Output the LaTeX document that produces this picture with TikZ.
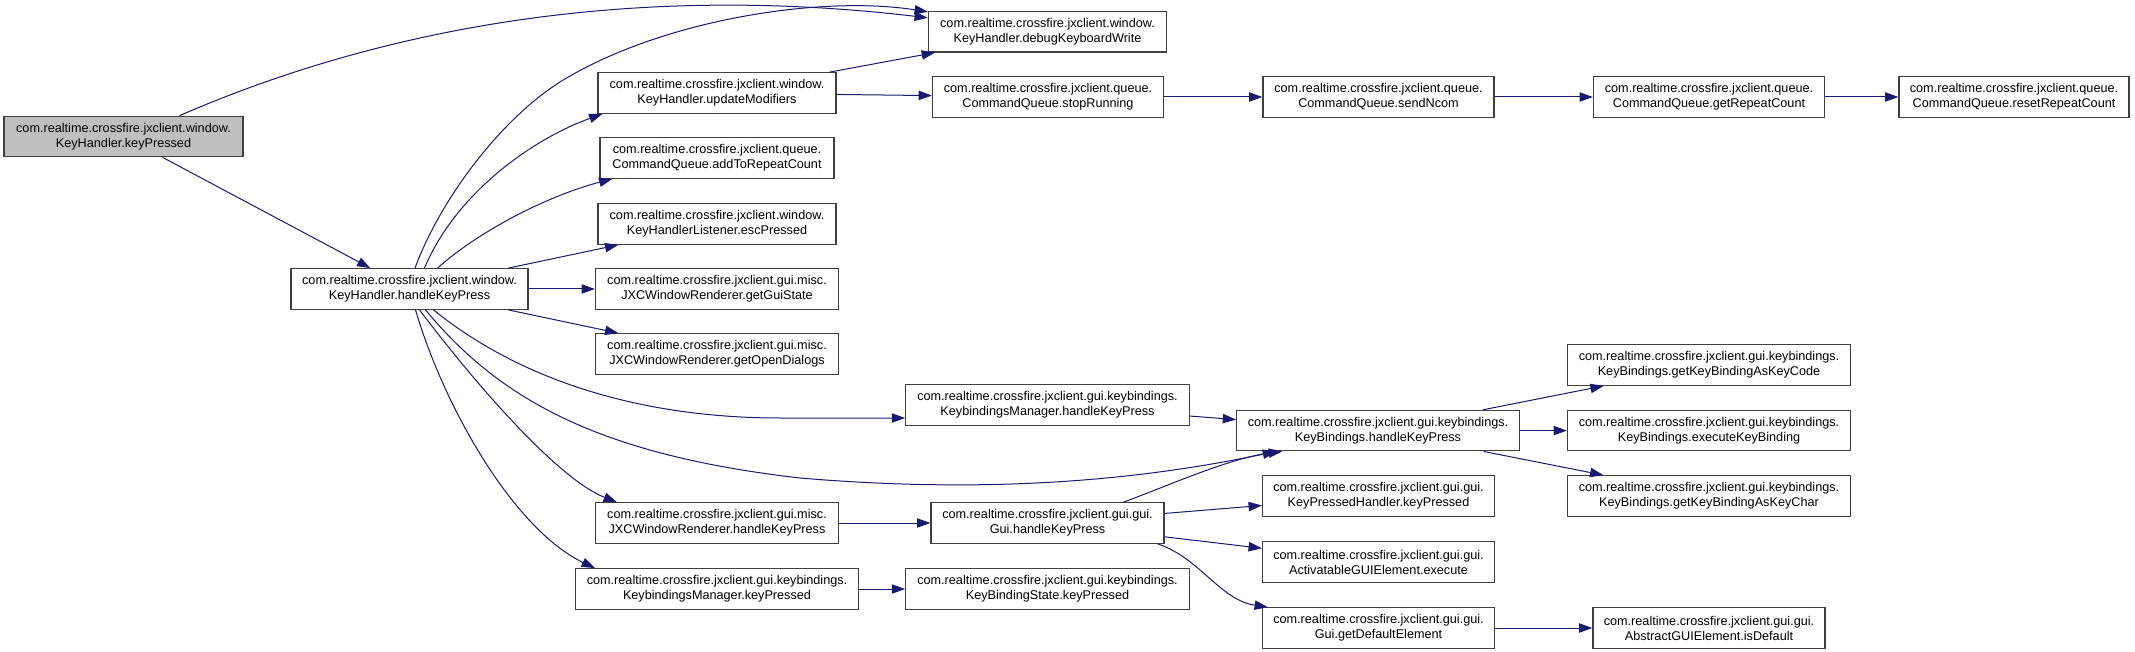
\documentclass[tikz,border=0pt]{standalone}
\usepackage{fontspec}
\setmainfont{Liberation Sans}
\usetikzlibrary{arrows.meta,calc}
\definecolor{edgec}{HTML}{191970}
\definecolor{bordc}{HTML}{404040}
\definecolor{rootfill}{HTML}{BFBFBF}
\newcommand\nodefont{\fontsize{9.5pt}{11.25pt}\selectfont}
\begin{document}
\begin{tikzpicture}[x=0.75pt,y=-0.75pt,
  box/.style={draw=bordc,line width=0.9pt,fill=white,minimum height=30.4pt,inner sep=0pt,align=center,font=\nodefont,text=black},
  bw/.style={minimum width=#1*0.75pt},
  edge/.style={draw=edgec,line width=0.75pt,-{Triangle[length=10pt,width=7pt]}}]
\useasboundingbox (0,0) rectangle (2135,652);
% column 1
\node[box,bw=239,fill=rootfill] (kp) at (123.5,136.5) {com.realtime.crossfire.jxclient.window.\\KeyHandler.keyPressed};
\node[box,bw=237] (kh) at (409.5,289) {com.realtime.crossfire.jxclient.window.\\KeyHandler.handleKeyPress};
% column 2
\node[box,bw=238] (upd) at (717,93) {com.realtime.crossfire.jxclient.window.\\KeyHandler.updateModifiers};
\node[box,bw=234] (add) at (717,158) {com.realtime.crossfire.jxclient.queue.\\CommandQueue.addToRepeatCount};
\node[box,bw=238] (esc) at (717,224) {com.realtime.crossfire.jxclient.window.\\KeyHandlerListener.escPressed};
\node[box,bw=243] (ggs) at (717,289) {com.realtime.crossfire.jxclient.gui.misc.\\JXCWindowRenderer.getGuiState};
\node[box,bw=243] (god) at (717,354) {com.realtime.crossfire.jxclient.gui.misc.\\JXCWindowRenderer.getOpenDialogs};
\node[box,bw=243] (jxh) at (717,523) {com.realtime.crossfire.jxclient.gui.misc.\\JXCWindowRenderer.handleKeyPress};
\node[box,bw=283] (kmk) at (717,589) {com.realtime.crossfire.jxclient.gui.keybindings.\\KeybindingsManager.keyPressed};
% column 3
\node[box,bw=238] (dbg) at (1047.5,31.7) {com.realtime.crossfire.jxclient.window.\\KeyHandler.debugKeyboardWrite};
\node[box,bw=231] (stop) at (1048,97) {com.realtime.crossfire.jxclient.queue.\\CommandQueue.stopRunning};
\node[box,bw=283.5] (kmh) at (1047.5,405) {com.realtime.crossfire.jxclient.gui.keybindings.\\KeybindingsManager.handleKeyPress};
\node[box,bw=233] (guih) at (1047.5,523) {com.realtime.crossfire.jxclient.gui.gui.\\Gui.handleKeyPress};
\node[box,bw=283.5] (kbs) at (1047.5,589) {com.realtime.crossfire.jxclient.gui.keybindings.\\KeyBindingState.keyPressed};
% column 4
\node[box,bw=231] (send) at (1378.5,97) {com.realtime.crossfire.jxclient.queue.\\CommandQueue.sendNcom};
\node[box,bw=282.6] (kbh) at (1378,430.6) {com.realtime.crossfire.jxclient.gui.keybindings.\\KeyBindings.handleKeyPress};
\node[box,bw=232] (kph) at (1378.5,496) {com.realtime.crossfire.jxclient.gui.gui.\\KeyPressedHandler.keyPressed};
\node[box,bw=232] (act) at (1378.5,562) {com.realtime.crossfire.jxclient.gui.gui.\\ActivatableGUIElement.execute};
\node[box,bw=232] (gde) at (1378.5,628) {com.realtime.crossfire.jxclient.gui.gui.\\Gui.getDefaultElement};
% column 5
\node[box,bw=231] (grc) at (1709,97) {com.realtime.crossfire.jxclient.queue.\\CommandQueue.getRepeatCount};
\node[box,bw=283] (kcode) at (1709,365) {com.realtime.crossfire.jxclient.gui.keybindings.\\KeyBindings.getKeyBindingAsKeyCode};
\node[box,bw=283] (kexec) at (1709,430.6) {com.realtime.crossfire.jxclient.gui.keybindings.\\KeyBindings.executeKeyBinding};
\node[box,bw=283] (kchar) at (1709,496) {com.realtime.crossfire.jxclient.gui.keybindings.\\KeyBindings.getKeyBindingAsKeyChar};
\node[box,bw=232] (isd) at (1709,628) {com.realtime.crossfire.jxclient.gui.gui.\\AbstractGUIElement.isDefault};
% column 6
\node[box,bw=230] (rrc) at (2014,97) {com.realtime.crossfire.jxclient.queue.\\CommandQueue.resetRepeatCount};

% edges from keyPressed
\draw[edge] ($(kp.north)+(56,0)$) .. controls (400,20) and (650,-15) .. ($(dbg.north west)+(0,7)$);
\draw[edge] (kp) -- (kh);
% edges from KeyHandler.handleKeyPress
\draw[edge] ($(kh.north)+(5.5,0)$) .. controls (440,200) and (500,120) .. (560,82)
  .. controls (660,20) and (820,-5) .. ($(dbg.north west)+(0,1)$);
\draw[edge] ($(kh.north)+(15,0)$) .. controls (455,195) and (530,140) .. ($(upd.south west)+(5,0)$);
\draw[edge] ($(kh.north)+(28,0)$) .. controls (480,230) and (550,195) .. ($(add.south west)+(13,0)$);
\draw[edge] (kh) -- (esc);
\draw[edge] (kh) -- (ggs);
\draw[edge] (kh) -- (god);
\draw[edge] ($(kh.south)+(24,0)$) .. controls (520,380) and (640,418) .. (780,418) -- ($(kmh.west)+(0,13)$);
\draw[edge] ($(kh.south)+(16,0)$) .. controls (500,400) and (600,455) .. (800,478)
  .. controls (1000,495) and (1150,478) .. ($(kbh.south west)+(40,0)$);
\draw[edge] ($(kh.south)+(10,0)$) .. controls (480,390) and (560,480) .. ($(jxh.north west)+(22,0)$);
\draw[edge] ($(kh.south)+(6,0)$) .. controls (445,410) and (515,530) .. ($(kmk.north west)+(20,0)$);
% updateModifiers
\draw[edge] (upd) -- (dbg);
\draw[edge] (upd) -- (stop);
% queue chain
\draw[edge] (stop) -- (send);
\draw[edge] (send) -- (grc);
\draw[edge] (grc) -- (rrc);
% keybindings
\draw[edge] (kmh) -- (kbh);
\draw[edge] (kbh) -- (kcode);
\draw[edge] (kbh) -- (kexec);
\draw[edge] (kbh) -- (kchar);
\draw[edge] (jxh) -- (guih);
\draw[edge] (kmk) -- (kbs);
% Gui.handleKeyPress
\draw[edge] ($(guih.north)+(76,0)$) .. controls (1170,485) and (1230,458) .. ($(kbh.south west)+(46,0)$);
\draw[edge] (guih) -- (kph);
\draw[edge] (guih) -- (act);
\draw[edge] ($(guih.south east)+(-7,0)$) .. controls (1200,558) and (1220,600) .. ($(gde.north west)+(6,0)$);
\draw[edge] (gde) -- (isd);
\end{tikzpicture}
\end{document}
